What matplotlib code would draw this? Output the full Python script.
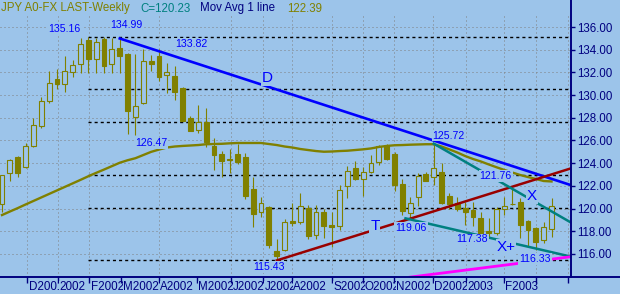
import matplotlib
matplotlib.use("Agg")
import matplotlib.pyplot as plt
import matplotlib.transforms as mtransforms
from matplotlib.lines import Line2D

plt.rcParams['font.family'] = ['Liberation Sans', 'DejaVu Sans']

# weekly JPY candles (one per week, Nov 2001 - Mar 2003)
opens = [120.40, 123.11, 124.55, 123.64, 125.52, 127.28, 129.50, 131.42, 130.95, 132.00,
         132.71, 134.85, 133.21, 134.94, 132.71, 134.12, 133.62, 128.04, 129.28, 133.00,
         133.44, 131.77, 131.68, 130.60, 128.01, 126.93, 127.66, 125.52, 124.81, 124.36,
         124.81, 124.52, 121.70, 119.73, 120.17, 116.26, 116.35, 118.93, 118.84, 120.03,
         117.67, 119.73, 118.56, 118.47, 121.99, 123.55, 122.58, 123.25, 124.13, 125.52,
         124.81, 122.17, 119.64, 121.05, 123.05, 122.76, 123.25, 121.11, 120.52, 120.03,
         119.88, 119.15, 118.05, 117.88, 119.94, 120.43, 120.61, 118.91, 118.26, 117.23,
         118.18]
highs = [123.00, 124.40, 124.67, 125.80, 127.96, 129.80, 132.15, 132.27, 133.44, 133.10,
         135.00, 135.16, 135.00, 135.10, 135.00, 134.99, 133.70, 133.62, 134.04, 133.53,
         134.04, 132.85, 132.56, 130.70, 128.16, 129.13, 128.84, 126.19, 125.07, 125.22,
         125.67, 124.93, 122.76, 121.00, 120.23, 117.32, 119.08, 120.47, 121.40, 120.32,
         120.32, 119.96, 119.73, 122.08, 123.75, 124.22, 123.69, 124.72, 125.60, 125.69,
         125.01, 122.58, 121.00, 123.16, 123.25, 125.72, 124.04, 121.40, 121.05, 120.61,
         120.61, 119.73, 119.15, 120.17, 121.05, 121.76, 120.91, 119.00, 118.40, 118.85,
         120.91]
lows = [119.70, 122.46, 122.80, 123.60, 125.40, 127.10, 129.33, 130.51, 130.30, 131.57,
        131.97, 131.97, 131.97, 131.92, 131.97, 131.92, 126.60, 126.47, 129.20, 132.15,
        131.27, 130.16, 129.57, 127.70, 126.80, 126.69, 125.45, 123.40, 122.81, 123.16,
        123.90, 120.82, 118.35, 119.23, 116.50, 115.43, 116.26, 118.49, 118.64, 117.30,
        117.32, 117.38, 116.64, 118.11, 120.91, 122.50, 121.11, 123.11, 123.84, 124.28,
        121.58, 119.44, 119.06, 120.23, 122.40, 122.08, 120.40, 119.94, 119.80, 118.56,
        118.47, 117.60, 117.38, 117.70, 119.44, 120.30, 117.38, 116.70, 116.33, 116.94,
        117.47]
closes = [122.96, 124.28, 123.17, 125.52, 127.37, 129.50, 131.04, 130.98, 132.15, 132.65,
          134.50, 133.15, 134.68, 132.59, 134.04, 133.47, 128.63, 129.04, 133.00, 132.74,
          131.62, 132.00, 130.30, 127.74, 126.86, 127.66, 125.90, 124.72, 124.19, 124.32,
          124.13, 121.11, 119.52, 120.47, 116.79, 115.85, 118.84, 118.70, 120.23, 117.59,
          119.73, 118.47, 118.41, 121.64, 123.31, 122.58, 123.25, 124.04, 125.52, 124.34,
          122.08, 119.82, 120.52, 122.87, 122.46, 123.55, 120.52, 120.41, 119.94, 119.73,
          119.29, 117.82, 117.82, 119.94, 120.23, 120.40, 118.56, 118.11, 117.08, 118.41,
          120.23]

# moving average (1 line)
mov_avg = [119.43, 119.74, 120.04, 120.36, 120.67, 120.98, 121.29, 121.60, 121.91, 122.22,
           122.53, 122.85, 123.15, 123.44, 123.74, 124.04, 124.26, 124.44, 124.72, 125.00,
           125.20, 125.38, 125.47, 125.52, 125.56, 125.60, 125.67, 125.69, 125.71, 125.75,
           125.78, 125.78, 125.78, 125.78, 125.69, 125.60, 125.47, 125.38, 125.25, 125.16,
           125.07, 125.01, 125.03, 125.07, 125.10, 125.16, 125.22, 125.30, 125.43, 125.52,
           125.58, 125.60, 125.63, 125.65, 125.67, 125.67, 125.47, 125.21, 124.94, 124.63,
           124.37, 124.15, 123.89, 123.64, 123.40, 123.18, 122.96, 122.78, 122.61, 122.43,
           122.39]

# month ticks (in week units) and their labels
month_pos = [3.2, 7.1, 11.1, 15.2, 20.0, 24.8, 29.2, 33.25, 36.95, 42.0, 46.0, 49.95,
             54.9, 59.1, 63.95, 68.0, 72.1]
month_labels = ["D2001", "2002", "F2002", "M2002", "A2002", "M2002", "J2002", "J2002",
                "A2002", "S2002", "O2002", "N2002", "D2002", "2003", "F2003", "", ""]
vgrid_pos = [3.2, 7.1, 11.1, 20.0, 29.2, 33.25, 36.95, 42.0, 46.0, 49.95, 54.9, 59.1,
             63.95, 68.0, 72.1]

# fibonacci retracement between swing high and swing low
swing_high, swing_low = 135.16, 115.43
fib_ratios = [0.0, 0.236, 0.382, 0.618, 0.764, 1.0]
fib_start = 11

# trend lines: (x0, x1), (y0, y1)
blue_line = ([15, 72.5], [134.99, 122.06])
red_line = ([35, 72.5], [115.43, 123.55])
teal_upper = ([55, 72.5], [125.72, 118.76])
teal_lower = ([51.4, 72.5], [119.14, 115.76])
magenta_line = ([52, 72.5], [113.96, 115.76])

# annotations: text, x, y, size
labels = [("135.16", 8.0, 135.87, 7.6), ("134.99", 15.9, 136.18, 7.6),
          ("133.82", 24.1, 134.5, 7.6), ("126.47", 19.0, 125.74, 7.6),
          ("125.72", 56.9, 126.44, 7.6), ("121.76", 62.9, 122.87, 7.6),
          ("119.06", 52.1, 118.29, 7.6), ("117.38", 59.9, 117.28, 7.6),
          ("116.33", 67.9, 115.56, 7.6), ("115.43", 34.0, 114.85, 7.6),
          ("D", 33.76, 131.5, 11), ("T", 47.5, 118.47, 11),
          ("X", 67.5, 121.11, 11), ("X+", 64.2, 116.62, 11)]

bg = '#9cc4ea'
olive = '#808000'
navy = '#000080'
blue = '#0000ff'
teal = '#008080'

W, H = 620, 294
fig = plt.figure(figsize=(W / 100, H / 100), dpi=100)
fig.patch.set_facecolor(bg)
ax = fig.add_axes([0, 17 / H, 571 / W, 262 / H])
ax.set_facecolor(bg)
ax.set_xlim(-0.255, 72.48)
ax.set_ylim(113.97, 137.06)
for s in ax.spines.values():
    s.set_visible(False)

# grid
ax.set_yticks(range(116, 137, 2))
ax.yaxis.grid(True, color='#808080', lw=0.72, linestyle=(0, (1, 3)), zorder=0)
ax.vlines(vgrid_pos, 113.97, 137.06, color='#808080', lw=0.72,
          linestyle=(0, (1, 3)), zorder=0)
ax.set_axisbelow(True)

# fib lines
fib_levels = [swing_low + r * (swing_high - swing_low) for r in fib_ratios]
ax.hlines(fib_levels, fib_start, 72.48, color='black', lw=1.0,
          linestyle=(0, (2.2, 2.2)), zorder=1)

# candles
x = list(range(len(opens)))
ax.vlines(x, lows, highs, color=olive, lw=0.8, zorder=2)
up = [c >= o for o, c in zip(opens, closes)]
bottoms = [min(o, c) for o, c in zip(opens, closes)]
heights = [abs(c - o) for o, c in zip(opens, closes)]
ax.bar(x, heights, bottom=bottoms, width=0.62,
       color=[bg if u else olive for u in up], edgecolor=olive, linewidth=0.8, zorder=3)

# moving average and trend lines
ax.plot(x, mov_avg, color=olive, lw=1.7, zorder=4)
ax.plot(*blue_line, color=blue, lw=1.9, zorder=4)
ax.plot(*red_line, color='#990000', lw=1.8, zorder=4)
ax.plot(*teal_upper, color=teal, lw=1.8, zorder=4)
ax.plot(*teal_lower, color=teal, lw=1.8, zorder=4)
ax.plot(*magenta_line, color='#ff00ff', lw=2.0, zorder=4)

for txt, tx, ty, fs in labels:
    ax.text(tx, ty, txt, ha='center', va='center', color=blue, fontsize=fs, zorder=6,
            bbox=dict(facecolor=bg, edgecolor='none', pad=0.6))

# axes ticks
ax.yaxis.tick_right()
ax.yaxis.set_major_formatter(plt.FormatStrFormatter('%.2f'))
ax.tick_params(axis='y', length=3, width=1, color=navy, labelcolor=navy,
               labelsize=8.3, pad=1.5)
ax.set_xticks(month_pos)
ax.set_xticklabels(month_labels, ha='left')
ax.tick_params(axis='x', length=4.3, width=1, color=navy, labelcolor=navy,
               labelsize=8.4, pad=0)
offset = mtransforms.ScaledTranslation(1.0 / 72, 1.5 / 72, fig.dpi_scale_trans)
for lab in ax.get_xticklabels():
    lab.set_transform(lab.get_transform() + offset)
    lab.set_bbox(dict(facecolor=bg, edgecolor='none', pad=0))

# frame lines
fig.add_artist(Line2D([0, 1], [17 / H, 17 / H], color=navy, lw=1.4))
fig.add_artist(Line2D([571 / W, 571 / W], [17 / H, 1], color=navy, lw=1.4))

# header
ty = 1 - 8.5 / H
fig.text(1 / W, ty, "JPY A0-FX LAST-Weekly", color=olive, fontsize=8.3, va='center')
fig.text(140 / W, ty, "C=120.23", color=teal, fontsize=8.3, va='center')
fig.text(200 / W, ty, "Mov Avg 1 line", color=navy, fontsize=8.3, va='center')
fig.text(287 / W, ty, "122.39", color=olive, fontsize=8.3, va='center')

fig.savefig("out.png", dpi=100, facecolor=bg)
